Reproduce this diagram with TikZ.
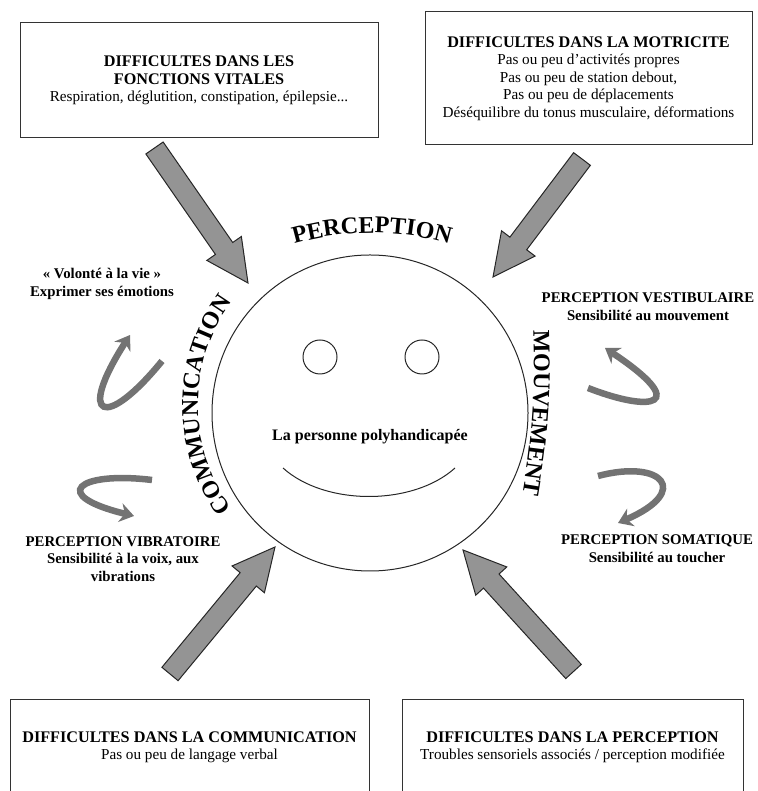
\documentclass[tikz,border=0pt]{standalone}
\usepackage{fontspec}
\setmainfont{Liberation Serif}
\usetikzlibrary{calc,decorations.text,arrows.meta}

\newcommand{\grand}{\bfseries\fontsize{24pt}{24pt}\selectfont}
\newcommand{\titre}[1]{{\bfseries\fontsize{16.2pt}{17.5pt}\selectfont #1}}
% grosse fleche grise de #1 (queue) vers #2 (pointe)
\newcommand{\grossefleche}[2]{%
  \coordinate (h) at ($(#2)!42pt!(#1)$);
  \filldraw[big arrow] ($(#1)!10.5pt!90:(#2)$) -- ($(h)!10.5pt!90:(#2)$)
    -- ($(h)!21pt!90:(#2)$) -- (#2) -- ($(h)!21pt!-90:(#2)$)
    -- ($(h)!10.5pt!-90:(#2)$) -- ($(#1)!10.5pt!-90:(#2)$) -- cycle;}

\begin{document}
\begin{tikzpicture}[x=1pt,y=1pt,
  box node/.style={draw=black!80,line width=1pt,align=center,font=\fontsize{15.2pt}{17.5pt}\selectfont},
  text node/.style={align=center,font=\bfseries\fontsize{14.8pt}{17.5pt}\selectfont},
  big arrow/.style={fill=black!42,draw=black!85,line width=1pt},
  turn arrow/.style={draw=black!55,line width=6.5pt,-{Stealth[length=14pt,width=19pt]}}]

  \useasboundingbox (0,0) rectangle (757,791);

  % cadres
  \node[box node,minimum width=358pt,minimum height=115pt] (1) at (199,710.5)
    {\titre{DIFFICULTES DANS LES}\\ \titre{FONCTIONS VITALES}\\ Respiration, déglutition, constipation, épilepsie...};
  \node[box node,minimum width=327pt,minimum height=133pt] (2) at (588.5,712.5)
    {\titre{DIFFICULTES DANS LA MOTRICITE}\\ Pas ou peu d'activités propres\\ Pas ou peu de station debout,\\
     Pas ou peu de déplacements\\ Déséquilibre du tonus musculaire, déformations};
  \node[box node,minimum width=359pt,minimum height=95pt] (3) at (189.5,43.5)
    {\titre{DIFFICULTES DANS LA COMMUNICATION}\\ Pas ou peu de langage verbal};
  \node[box node,minimum width=341pt,minimum height=95pt] (4) at (572.5,43.5)
    {\titre{DIFFICULTES DANS LA PERCEPTION}\\ Troubles sensoriels associés / perception modifiée};

  % le visage
  \node[draw=black!85,line width=1pt,circle,minimum size=316pt] (5) at (370,378) {};
  \node[draw=black!85,line width=1pt,circle,minimum size=34pt] (6) at (320,434) {};
  \node[draw=black!85,line width=1pt,circle,minimum size=34pt] (7) at (422,434) {};
  \node[text node,font=\bfseries\fontsize{16pt}{18pt}\selectfont] (8) at (370,354) {La personne polyhandicapée};
  \draw[black!85,line width=1pt] (283,323) .. controls (325,285) and (413,285) .. (455,323);

  % mots autour du visage
  \path[decorate,decoration={text along path,text align=center,text={|\grand|PERCEPTION}}]
    ([shift={(112:280)}]372,278) arc[start angle=112,end angle=68,radius=280];
  \path[decorate,decoration={text along path,text align=center,text={|\grand|MOUVEMENT}}]
    (533,469) to[bend left=6] (521,288);
  \path[decorate,decoration={text along path,text align=center,text={|\grand|COMMUNICATION}}]
    ([shift={(220:174)}]372,386) arc[start angle=220,end angle=140,radius=174];

  % textes lateraux
  \node[text node] (9) at (102,507) {« Volonté à la vie »\\ Exprimer ses émotions};
  \node[text node] (10) at (123,232) {PERCEPTION VIBRATOIRE\\ Sensibilité à la voix, aux\\ vibrations};
  \node[text node] (11) at (648,484.5) {PERCEPTION VESTIBULAIRE\\ Sensibilité au mouvement};
  \node[text node] (12) at (657,242.5) {PERCEPTION SOMATIQUE\\ Sensibilité au toucher};

  % grosses fleches
  \coordinate (a1) at (154.5,643); \coordinate (b1) at (248,508);
  \coordinate (a2) at (582,632);   \coordinate (b2) at (493,514);
  \coordinate (a3) at (170,117);   \coordinate (b3) at (275,244);
  \coordinate (a4) at (573.5,119.5); \coordinate (b4) at (463,241);
  \grossefleche{a1}{b1}
  \grossefleche{a2}{b2}
  \grossefleche{a3}{b3}
  \grossefleche{a4}{b4}

  % fleches tournantes
  \draw[turn arrow] (162,430) .. controls (105,360) and (76,372) .. (130,456);
  \draw[turn arrow] (152,311) .. controls (78,320) and (48,296) .. (134,275);
  \draw[turn arrow] (588,403) .. controls (652,378) and (692,385) .. (605,443);
  \draw[turn arrow] (598,315) .. controls (662,332) and (692,300) .. (618,268);
\end{tikzpicture}
\end{document}
